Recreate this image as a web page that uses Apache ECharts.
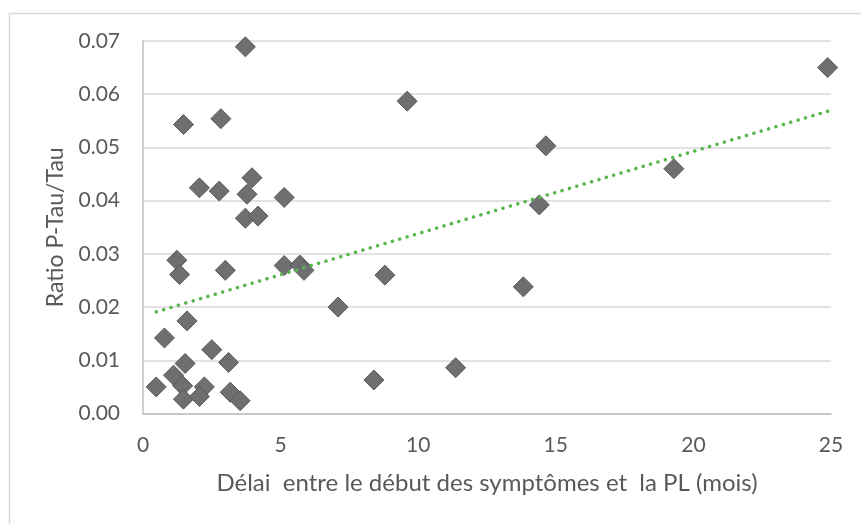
<!DOCTYPE html>
<html>
<head>
<meta charset="utf-8">
<script src="https://cdn.jsdelivr.net/npm/echarts@6/dist/echarts.min.js"></script>
<style>
html,body{margin:0;padding:0;background:#fff;}
#c{width:861px;height:524px;}
</style>
</head>
<body>
<div id="c"></div>
<script>
// Délai (mois)
const delai = [3.72, 24.88, 9.60, 2.83, 1.47, 14.64, 19.29, 3.96, 2.05, 2.77,
  3.78, 5.13, 14.40, 3.72, 4.18, 1.23, 1.33, 2.99, 5.13, 5.70,
  5.85, 8.79, 13.82, 7.09, 1.60, 0.78, 2.50, 1.53, 3.11, 11.36,
  8.39, 0.48, 1.11, 1.44, 1.47, 2.23, 2.05, 3.17, 3.53];
// Ratio P-Tau/Tau
const ratio = [0.0689, 0.0650, 0.0587, 0.0554, 0.0543, 0.0503, 0.0460, 0.0443, 0.0424, 0.0418,
  0.0412, 0.0406, 0.0392, 0.0367, 0.0371, 0.0288, 0.0261, 0.0269, 0.0278, 0.0279,
  0.0269, 0.0260, 0.0238, 0.0200, 0.0174, 0.0142, 0.0120, 0.0094, 0.0096, 0.0086,
  0.0063, 0.0050, 0.0072, 0.0052, 0.0027, 0.0050, 0.0032, 0.0040, 0.0024];
// Linear trendline endpoints
const trendX = [0.48, 24.88];
const trendY = [0.0191, 0.0568];

const xTitle = 'Délai  entre le début des symptômes et  la PL (mois)';
const yTitle = 'Ratio P-Tau/Tau';

const points = delai.map((x, i) => [x, ratio[i]]);
const trend = trendX.map((x, i) => [x, trendY[i]]);

const chart = echarts.init(document.getElementById('c'), null, {renderer: 'canvas'});
const textColor = '#595959';
chart.setOption({
  backgroundColor: '#ffffff',
  animation: false,
  graphic: [{
    type: 'rect', left: 7, top: 11, silent: true, z: -1,
    shape: {width: 870, height: 530},
    style: {fill: 'none', stroke: '#d9d9d9', lineWidth: 1.5}
  }],
  grid: {left: 143, top: 41, right: 30, bottom: 110.5},
  xAxis: {
    type: 'value', min: 0, max: 25, interval: 5,
    name: xTitle, nameLocation: 'middle', nameGap: 58,
    nameTextStyle: {fontFamily: 'Lato', fontSize: 24, color: textColor},
    axisLine: {show: true, lineStyle: {color: '#bfbfbf', width: 1.5}},
    axisTick: {show: false},
    splitLine: {show: false},
    axisLabel: {fontFamily: 'Lato', fontSize: 21, color: textColor, margin: 21}
  },
  yAxis: {
    type: 'value', min: 0, max: 0.07, interval: 0.01,
    name: yTitle, nameLocation: 'middle', nameGap: 76, nameRotate: 90,
    nameTextStyle: {fontFamily: 'Lato', fontSize: 23, color: textColor},
    axisLine: {show: true, lineStyle: {color: '#bfbfbf', width: 1.5}},
    axisTick: {show: false},
    splitLine: {show: true, lineStyle: {color: '#d9d9d9', width: 1.5}},
    axisLabel: {fontFamily: 'Lato', fontSize: 21, color: textColor, margin: 23,
      formatter: v => v.toFixed(2)}
  },
  series: [{
    type: 'scatter', data: points, symbol: 'diamond', symbolSize: 20,
    itemStyle: {color: '#6f6f72', borderColor: '#5a5a5c', borderWidth: 1, opacity: 1},
    z: 3
  }, {
    type: 'line', data: trend, showSymbol: false, symbol: 'none',
    lineStyle: {color: '#58b64c', width: 3.5, type: [0.1, 7.6], cap: 'round'},
    z: 4
  }]
});
</script>
</body>
</html>
